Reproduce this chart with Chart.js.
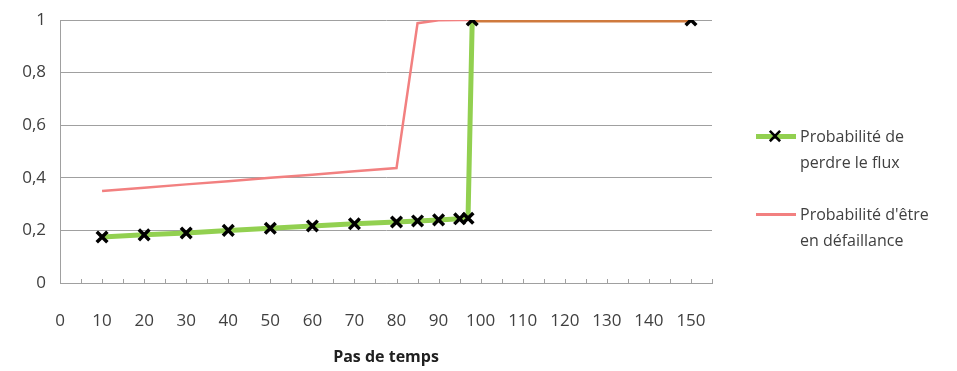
<!DOCTYPE html>
<html>
<head>
<meta charset="utf-8">
<script src="https://cdn.jsdelivr.net/npm/chart.js@4"></script>
<style>
  body { margin: 0; background: #fff; }
  #wrap { position: relative; width: 957px; height: 371px; }
  #legend { position: absolute; left: 752px; top: 123px; font-family: "Open Sans", sans-serif; font-size: 16px; color: #404040; line-height: 26px; }
  .item { position: relative; padding-left: 48px; margin-bottom: 26px; }
  .item .line { position: absolute; left: 4px; top: 13px; width: 40px; }
  .item .mark { position: absolute; left: 15px; top: 4px; font-weight: bold; font-size: 19px; line-height: 18px; color: #000; }
</style>
</head>
<body>
<div id="wrap">
  <canvas id="chart" width="957" height="371"></canvas>
  <div id="legend"></div>
</div>
<script>
// x positions (pas de temps)
const steps = [10, 20, 30, 40, 50, 60, 70, 80, 85, 90, 95, 97, 98, 150];
// probabilité de perdre le flux
const perteFlux = [0.175, 0.183, 0.19, 0.2, 0.208, 0.217, 0.225, 0.232, 0.236, 0.24, 0.244, 0.246, 1, 1];
// probabilité d'être en défaillance
const defaillance = [0.35, 0.362, 0.375, 0.387, 0.4, 0.412, 0.425, 0.437, 0.988, 0.999, 1, 1, 1, 1];
const seriesNames = ['Probabilité de\nperdre le flux', "Probabilité d'être\nen défaillance"];

const green = '#92d050';
const red = '#f28080';

// small tick marks drawn inside the plot above the x axis
const innerTicks = {
  id: 'innerTicks',
  afterDraw(chart) {
    const x = chart.scales.x, ctx = chart.ctx;
    const bottom = chart.chartArea.bottom;
    ctx.save();
    ctx.strokeStyle = '#a0a0a0';
    ctx.lineWidth = 1;
    x.ticks.forEach(t => {
      const px = Math.round(x.getPixelForValue(t.value)) + 0.5;
      ctx.beginPath();
      ctx.moveTo(px, bottom - 4);
      ctx.lineTo(px, bottom);
      ctx.stroke();
    });
    ctx.restore();
  }
};

new Chart(document.getElementById('chart'), {
  type: 'scatter',
  data: {
    datasets: [
      {
        label: seriesNames[0],
        data: steps.map((s, i) => ({ x: s, y: perteFlux[i] })),
        showLine: true,
        borderColor: green,
        borderWidth: 5,
        pointStyle: 'crossRot',
        pointRadius: 7.5,
        pointBorderWidth: 3.5,
        pointBorderColor: '#000',
        pointBackgroundColor: '#000',
        segment: {
          borderColor: c => (c.p0.parsed.y === 1 && c.p1.parsed.y === 1) ? '#cf7a3e' : green
        }
      },
      {
        label: seriesNames[1],
        data: steps.map((s, i) => ({ x: s, y: defaillance[i] })),
        showLine: true,
        borderColor: red,
        borderWidth: 2.5,
        pointRadius: 0
      }
    ]
  },
  options: {
    responsive: false,
    animation: false,
    layout: { padding: { left: 0, right: 245, top: 20, bottom: 0 } },
    plugins: { legend: { display: false }, tooltip: { enabled: false } },
    scales: {
      x: {
        type: 'linear',
        min: 0,
        max: 155,
        afterFit: s => { s.height = 88; s.paddingLeft = 0; s.paddingRight = 0; },
        border: { color: '#a0a0a0' },
        grid: { display: false },
        ticks: {
          stepSize: 5,
          autoSkip: false,
          maxRotation: 0,
          padding: 20,
          color: '#404040',
          font: { family: 'Open Sans', size: 17 },
          callback: v => (v % 10 === 0 && v <= 150) ? String(v) : ''
        },
        title: {
          display: true,
          text: 'Pas de temps',
          color: '#202020',
          font: { family: 'Open Sans', size: 16, weight: 'bold' },
          padding: { top: 26 }
        }
      },
      y: {
        min: 0,
        max: 1,
        afterFit: s => { s.width = 60; s.paddingTop = 0; s.paddingBottom = 0; },
        border: { color: '#a0a0a0' },
        grid: { color: '#a0a0a0', tickLength: 0 },
        ticks: {
          stepSize: 0.2,
          padding: 14,
          color: '#404040',
          font: { family: 'Open Sans', size: 17 },
          callback: v => String(Math.round(v * 10) / 10).replace('.', ',')
        }
      }
    }
  },
  plugins: [innerTicks]
});

// html legend on the right
const legend = document.getElementById('legend');
[[green, 5, true], [red, 3, false]].forEach((st, i) => {
  const d = document.createElement('div');
  d.className = 'item';
  d.innerHTML = '<div class="line" style="height:' + st[1] + 'px;background:' + st[0] + ';margin-top:-' + (st[1] / 2) + 'px"></div>' +
    (st[2] ? '<div class="mark">✕</div>' : '') +
    seriesNames[i].split('\n').join('<br>');
  legend.appendChild(d);
});
</script>
</body>
</html>
